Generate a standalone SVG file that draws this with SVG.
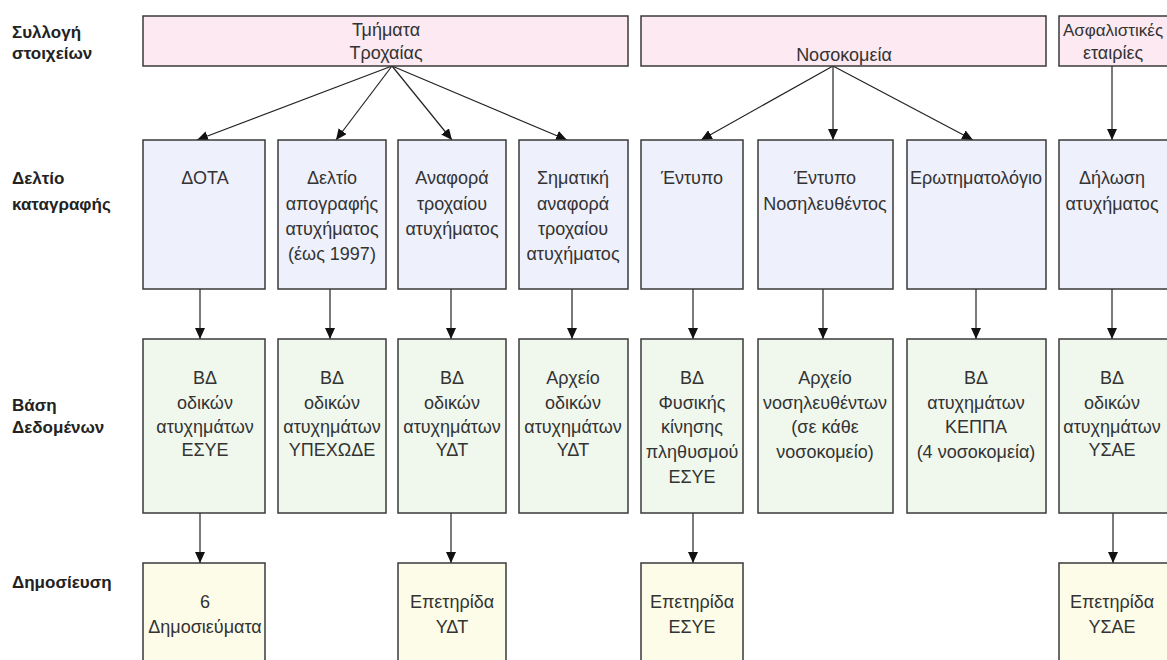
<svg xmlns="http://www.w3.org/2000/svg" width="1167" height="660" viewBox="0 0 1167 660">
<style>
text{font-family:"Liberation Sans",Arial,sans-serif;font-size:18px;fill:#333;text-anchor:middle}
.lbl{font-weight:bold;font-size:17px;text-anchor:start;fill:#222}
.box{stroke:#3a3a3a;stroke-width:1.5}
.src{fill:#fce9f1}
.form{fill:#eef0fb}
.db{fill:#f0f8ee}
.pub{fill:#fdfce9}
.conn{stroke:#222;stroke-width:1.2;fill:none;marker-end:url(#ah)}
</style>
<defs>
<marker id="ah" markerUnits="userSpaceOnUse" markerWidth="12" markerHeight="10" refX="11" refY="5" orient="auto">
<path d="M0,0 L11,5 L0,10 z" fill="#111"/>
</marker>
</defs>
<rect width="1167" height="660" fill="#fff"/>
<g id="labels">
<text class="lbl" x="12" y="38">Συλλογή</text>
<text class="lbl" x="12" y="59">στοιχείων</text>
<text class="lbl" x="12" y="184">Δελτίο</text>
<text class="lbl" x="12" y="210">καταγραφής</text>
<text class="lbl" x="12" y="411">Βάση</text>
<text class="lbl" x="12" y="433">Δεδομένων</text>
<text class="lbl" x="12" y="588">Δημοσίευση</text>
</g>
<g id="connectors">
<line class="conn" x1="392" y1="66" x2="197" y2="140"/>
<line class="conn" x1="392" y1="66" x2="336" y2="140"/>
<line class="conn" x1="392" y1="66" x2="452" y2="140"/>
<line class="conn" x1="392" y1="66" x2="567" y2="140"/>
<line class="conn" x1="833" y1="66" x2="701" y2="140"/>
<line class="conn" x1="833" y1="66" x2="833" y2="140"/>
<line class="conn" x1="833" y1="66" x2="973" y2="140"/>
<line class="conn" x1="1112" y1="66" x2="1112" y2="140"/>
<line class="conn" x1="200" y1="289" x2="200" y2="339"/>
<line class="conn" x1="330" y1="289" x2="330" y2="339"/>
<line class="conn" x1="451" y1="289" x2="451" y2="339"/>
<line class="conn" x1="572" y1="289" x2="572" y2="339"/>
<line class="conn" x1="693" y1="289" x2="693" y2="339"/>
<line class="conn" x1="823" y1="289" x2="823" y2="339"/>
<line class="conn" x1="976" y1="289" x2="976" y2="339"/>
<line class="conn" x1="1112" y1="289" x2="1112" y2="339"/>
<line class="conn" x1="200" y1="513" x2="200" y2="563"/>
<line class="conn" x1="451" y1="513" x2="451" y2="563"/>
<line class="conn" x1="693" y1="513" x2="693" y2="563"/>
<line class="conn" x1="1113" y1="513" x2="1113" y2="563"/>
</g>
<g id="src-traffic"><rect class="box src" x="143" y="16" width="485" height="50"/><text x="386" y="36">Τμήματα</text><text x="386" y="59">Τροχαίας</text></g>
<g id="src-hospitals"><rect class="box src" x="641" y="16" width="405" height="50"/><text x="844" y="61">Νοσοκομεία</text></g>
<g id="src-insurance"><rect class="box src" x="1059" y="16" width="120" height="50"/><text x="1113" y="36" style="font-size:17px">Ασφαλιστικές</text><text x="1113" y="59">εταιρίες</text></g>

<g id="f-dota"><rect class="box form" x="143" y="140" width="122" height="149"/><text x="205" y="184">ΔΟΤΑ</text></g>
<g id="f-deltio"><rect class="box form" x="278" y="140" width="108" height="149"/><text x="332" y="184">Δελτίο</text><text x="332" y="210">απογραφής</text><text x="332" y="235">ατυχήματος</text><text x="332" y="260">(έως 1997)</text></g>
<g id="f-anafora"><rect class="box form" x="398" y="140" width="108" height="149"/><text x="452" y="184">Αναφορά</text><text x="452" y="210">τροχαίου</text><text x="452" y="235">ατυχήματος</text></g>
<g id="f-schematiki"><rect class="box form" x="519" y="140" width="109" height="149"/><text x="573" y="184">Σηματική</text><text x="573" y="210">αναφορά</text><text x="573" y="235">τροχαίου</text><text x="573" y="260">ατυχήματος</text></g>
<g id="f-entypo"><rect class="box form" x="641" y="140" width="102" height="149"/><text x="692" y="184">Έντυπο</text></g>
<g id="f-entypo-nos"><rect class="box form" x="758" y="140" width="135" height="149"/><text x="825" y="184">Έντυπο</text><text x="825" y="210">Νοσηλευθέντος</text></g>
<g id="f-erotim"><rect class="box form" x="907" y="140" width="139" height="149"/><text x="976" y="184">Ερωτηματολόγιο</text></g>
<g id="f-dilosi"><rect class="box form" x="1059" y="140" width="120" height="149"/><text x="1112" y="184">Δήλωση</text><text x="1112" y="210">ατυχήματος</text></g>

<g id="db-esye"><rect class="box db" x="143" y="339" width="122" height="174"/><text x="205" y="384">ΒΔ</text><text x="205" y="409">οδικών</text><text x="205" y="433">ατυχημάτων</text><text x="205" y="456">ΕΣΥΕ</text></g>
<g id="db-ypexode"><rect class="box db" x="278" y="339" width="108" height="174"/><text x="332" y="384">ΒΔ</text><text x="332" y="409">οδικών</text><text x="332" y="433">ατυχημάτων</text><text x="332" y="456">ΥΠΕΧΩΔΕ</text></g>
<g id="db-ydt"><rect class="box db" x="398" y="339" width="108" height="174"/><text x="452" y="384">ΒΔ</text><text x="452" y="409">οδικών</text><text x="452" y="433">ατυχημάτων</text><text x="452" y="456">ΥΔΤ</text></g>
<g id="db-archeio-ydt"><rect class="box db" x="519" y="339" width="109" height="174"/><text x="573" y="384">Αρχείο</text><text x="573" y="409">οδικών</text><text x="573" y="433">ατυχημάτων</text><text x="573" y="456">ΥΔΤ</text></g>
<g id="db-fysikis"><rect class="box db" x="641" y="339" width="102" height="174"/><text x="692" y="384">ΒΔ</text><text x="692" y="409">Φυσικής</text><text x="692" y="433">κίνησης</text><text x="692" y="458">πληθυσμού</text><text x="692" y="483">ΕΣΥΕ</text></g>
<g id="db-nosil"><rect class="box db" x="758" y="339" width="135" height="174"/><text x="825" y="384">Αρχείο</text><text x="825" y="409">νοσηλευθέντων</text><text x="825" y="433">(σε κάθε</text><text x="825" y="458">νοσοκομείο)</text></g>
<g id="db-keppa"><rect class="box db" x="907" y="339" width="139" height="174"/><text x="976" y="384">ΒΔ</text><text x="976" y="409">ατυχημάτων</text><text x="976" y="433">ΚΕΠΠΑ</text><text x="976" y="458">(4 νοσοκομεία)</text></g>
<g id="db-ysae"><rect class="box db" x="1059" y="339" width="120" height="174"/><text x="1112" y="384">ΒΔ</text><text x="1112" y="409">οδικών</text><text x="1112" y="433">ατυχημάτων</text><text x="1112" y="456">ΥΣΑΕ</text></g>

<g id="p-6"><rect class="box pub" x="143" y="563" width="122" height="110"/><text x="205" y="608">6</text><text x="205" y="633">Δημοσιεύματα</text></g>
<g id="p-ydt"><rect class="box pub" x="398" y="563" width="108" height="110"/><text x="452" y="608">Επετηρίδα</text><text x="452" y="633">ΥΔΤ</text></g>
<g id="p-esye"><rect class="box pub" x="641" y="563" width="102" height="110"/><text x="692" y="608">Επετηρίδα</text><text x="692" y="633">ΕΣΥΕ</text></g>
<g id="p-ysae"><rect class="box pub" x="1059" y="563" width="120" height="110"/><text x="1112" y="608">Επετηρίδα</text><text x="1112" y="633">ΥΣΑΕ</text></g>
</svg>
